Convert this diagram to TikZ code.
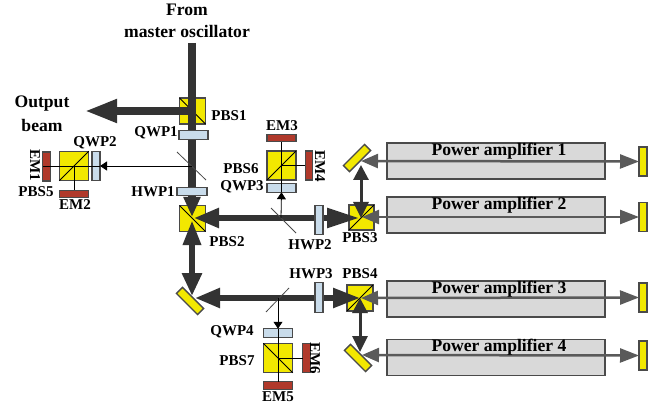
\documentclass[tikz,border=0pt]{standalone}
\usepackage{fontspec}
\setmainfont{Liberation Serif}
\usetikzlibrary{arrows.meta}
\definecolor{outl}{HTML}{4A4A4A}
\definecolor{ylw}{HTML}{F2E800}
\definecolor{wpl}{HTML}{C9DCEB}
\definecolor{emr}{HTML}{B0392B}
\definecolor{pagrey}{HTML}{D9D9D9}
\definecolor{beamd}{HTML}{333333}
\definecolor{beamg}{HTML}{5A5A5A}
\tikzset{
  comp/.style={draw=outl,line width=1.4pt,inner sep=0pt,outer sep=0pt},
  cube/.style={comp,fill=ylw,minimum width=#1,minimum height=#1},
  plateh/.style={comp,fill=wpl,minimum width=29pt,minimum height=8.5pt},
  platev/.style={comp,fill=wpl,minimum width=8pt,minimum height=29.5pt},
  emh/.style={comp,fill=emr,minimum width=29pt,minimum height=7.5pt},
  emv/.style={comp,fill=emr,minimum width=7.5pt,minimum height=29pt},
  endm/.style={comp,fill=ylw,minimum width=8pt,minimum height=29pt},
  fold/.style={comp,fill=ylw,minimum width=30pt,minimum height=8.5pt},
  pa/.style={draw=outl,line width=1.4pt,fill=pagrey,minimum width=218pt,minimum height=36pt,inner sep=0pt},
  lab/.style={font=\fontsize{15}{17}\selectfont\bfseries,text=black,inner sep=0pt},
  biglab/.style={font=\fontsize{17.6}{19}\selectfont\bfseries,text=black,inner sep=0pt},
  mainbeam/.style={draw=beamd,line width=7.5pt},
  midbeam/.style={draw=beamd,line width=3pt,{Triangle[length=15pt,width=15pt]}-{Triangle[length=16pt,width=15pt]}},
  ampbeam/.style={draw=beamg,line width=2.5pt,{Triangle[length=17pt,width=14pt]}-{Triangle[length=19pt,width=14pt]}},
  thin/.style={draw=black,line width=0.8pt},
  thintip/.style={-{Triangle[length=7pt,width=9pt]}},
  pick/.style={draw=outl,line width=0.8pt}
}
\begin{document}
\begin{tikzpicture}[x=1pt,y=-1pt]
\useasboundingbox (0,0) rectangle (661,406);
% amplifiers
\node[pa] (pa1) at (496,161) {};
\node[pa] (pa2) at (496,215) {};
\node[pa] (pa3) at (496,299) {};
\node[pa] (pa4) at (496,357.5) {};
% components
\node[cube=26pt] (pbs1) at (192.5,111) {};
\node[cube=26pt] (pbs2) at (192.5,218.5) {};
\node[cube=25pt] (pbs3) at (361.5,217.5) {};
\node[cube=26pt] (pbs4) at (360,298) {};
\node[cube=29.5pt] (pbs5) at (74,166) {};
\node[cube=29pt] (pbs6) at (281.5,165.5) {};
\node[cube=29.5pt] (pbs7) at (278,358) {};
\node[plateh] (qwp1) at (193.5,135) {};
\node[plateh,minimum width=30pt] (hwp1) at (192,191.5) {};
\node[platev] (qwp2) at (96,166) {};
\node[plateh] (qwp3) at (281.5,188) {};
\node[plateh] (qwp4) at (278,333) {};
\node[platev] (hwp2) at (319,220) {};
\node[platev] (hwp3) at (319,297.5) {};
\node[emv] (em1) at (46.5,166.5) {};
\node[emh] (em2) at (74,194) {};
\node[emh] (em3) at (281.5,138) {};
\node[emv] (em4) at (309,165.5) {};
\node[emh] (em5) at (278,385.5) {};
\node[emv] (em6) at (306.5,358) {};
\node[endm] (e1) at (643,161.5) {};
\node[endm] (e2) at (643,217) {};
\node[endm] (e3) at (643,297.5) {};
\node[endm] (e4) at (643,355.5) {};
\node[fold,rotate=45] (m1) at (357,158) {};
\node[fold,rotate=-45] (m2) at (190,301) {};
\node[fold,rotate=-45] (m4) at (358,358) {};
% cube diagonals
\draw[thin] (pbs1.north west) -- (pbs1.south east);
\draw[thin] (pbs2.north west) -- (pbs2.south east);
\draw[thin] (pbs3.south west) -- (pbs3.north east);
\draw[thin] (pbs4.south west) -- (pbs4.north east);
\draw[thin] (pbs5.south west) -- (pbs5.north east);
\draw[thin] (pbs6.south west) -- (pbs6.north east);
\draw[thin] (pbs7.north west) -- (pbs7.south east);
% pick-off plates
\coordinate (pk1a) at (177,152); \coordinate (pk1b) at (206,180);
\coordinate (pk2a) at (271,208); \coordinate (pk2b) at (296,233);
\coordinate (pk3a) at (266,312); \coordinate (pk3b) at (289,288);
% main beams
\coordinate (in) at (192,43);
\coordinate (jout) at (192,111);
\coordinate (outtip) at (85,111);
\coordinate (p2top) at (192,217);
\coordinate (p2bot) at (192,220);
\coordinate (m2top) at (192,296);
\coordinate (m2r) at (195,298);
\coordinate (p2r) at (194,218);
\coordinate (p3l) at (359,218);
\coordinate (p4l) at (360,298);
\draw[mainbeam] (in) -- (jout);
\draw[mainbeam,-{Triangle[length=32pt,width=22pt]}] (jout) -- (outtip);
\draw[mainbeam,-{Triangle[length=20pt,width=16pt]}] (jout) -- (p2top);
\draw[draw=beamd,line width=6pt,{Triangle[length=25pt,width=17pt]}-{Triangle[length=23pt,width=19pt]}] (p2bot) -- (m2top);
\draw[draw=beamd,line width=5.5pt,{Triangle[length=25pt,width=19pt]}-{Triangle[length=32pt,width=19pt]}] (p2r) -- (p3l);
\draw[draw=beamd,line width=5.5pt,{Triangle[length=25pt,width=19pt]}-{Triangle[length=27pt,width=19pt]}] (m2r) -- (p4l);
% redraw waveplates across the beams
\node[plateh] at (qwp1) {};
\node[plateh,minimum width=30pt] at (hwp1) {};
\node[platev] at (hwp2) {};
\node[platev] at (hwp3) {};
% thin sampled beams
\coordinate (s1) at (192,166);
\coordinate (s2) at (281,218);
\coordinate (s3) at (278,298);
\draw[pick] (pk1a) -- (pk1b);
\draw[pick] (pk2a) -- (pk2b);
\draw[pick] (pk3a) -- (pk3b);
\draw[thin,thintip] (s1) -- (qwp2.east);
\draw[thin] (qwp2.east) -- (em1.west |- s1);
\draw[thin] (pbs5.center) -- (em2.north);
\draw[thin,thintip] (s2) -- (qwp3.south);
\draw[thin] (qwp3.south) -- (em3.south);
\draw[thin] (pbs6.center) -- (em4.west);
\draw[thin,thintip] (s3) -- (qwp4.north);
\draw[thin] (qwp4.north) -- (em5.north);
\draw[thin] (pbs7.center) -- (em6.west);
% vertical links
\coordinate (m1b) at (361,165);
\coordinate (p3t) at (361,218);
\coordinate (p4b) at (360,298);
\coordinate (m4t) at (360,352);
\draw[midbeam] (m1b) -- (p3t);
\draw[midbeam] (p4b) -- (m4t);
% amplifier beams
\coordinate (m1r) at (361,161);
\coordinate (p3r) at (362,217);
\coordinate (p4r) at (361,298);
\coordinate (m4r) at (362,355);
\draw[ampbeam] (m1r) -- (e1.west);
\draw[ampbeam] (p3r) -- (e2.west);
\draw[ampbeam] (p4r) -- (e3.west);
\draw[ampbeam] (m4r) -- (e4.west);
% labels
\node[biglab] (t0) at (187,10) {From};
\node[biglab] (t1) at (187,31) {master oscillator};
\node[biglab] (t2) at (42,104) {Output};
\node[biglab] (t3) at (42,125) {beam};
\node[biglab] (a1) at (499,151) {Power amplifier 1};
\node[biglab] (a2) at (499,205) {Power amplifier 2};
\node[biglab] (a3) at (499,289) {Power amplifier 3};
\node[biglab] (a4) at (499,347) {Power amplifier 4};
\node[lab] (l1) at (229,116) {PBS1};
\node[lab] (l2) at (227,242) {PBS2};
\node[lab] (l3) at (360,238) {PBS3};
\node[lab] (l4) at (360,274) {PBS4};
\node[lab] (l5) at (36,192) {PBS5};
\node[lab] (l6) at (241,169) {PBS6};
\node[lab] (l7) at (237,361) {PBS7};
\node[lab] (l8) at (156,133) {QWP1};
\node[lab] (l9) at (95,143) {QWP2};
\node[lab] (l10) at (242,187) {QWP3};
\node[lab] (l11) at (232,332) {QWP4};
\node[lab] (l12) at (153,192) {HWP1};
\node[lab] (l13) at (310,245) {HWP2};
\node[lab] (l14) at (311,274) {HWP3};
\node[lab,rotate=-90] (l15) at (35,165) {EM1};
\node[lab] (l16) at (75,205) {EM2};
\node[lab] (l17) at (282,126) {EM3};
\node[lab,rotate=-90] (l18) at (320,166) {EM4};
\node[lab] (l19) at (278,397) {EM5};
\node[lab,rotate=-90] (l20) at (315,358) {EM6};
\end{tikzpicture}
\end{document}
